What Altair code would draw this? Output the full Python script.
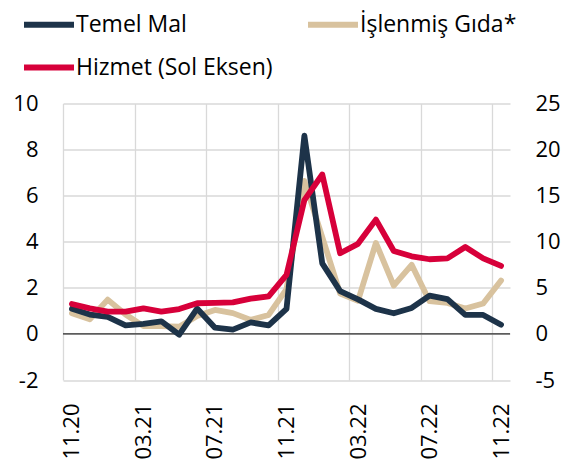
import json
import altair as alt
import pandas as pd

months = ["11.20", "12.20", "01.21", "02.21", "03.21", "04.21", "05.21", "06.21",
          "07.21", "08.21", "09.21", "10.21", "11.21", "12.21", "01.22", "02.22",
          "03.22", "04.22", "05.22", "06.22", "07.22", "08.22", "09.22", "10.22", "11.22"]

# Hizmet (left axis)
hizmet = [1.30, 1.11, 0.97, 0.97, 1.11, 0.97, 1.08, 1.33, 1.35, 1.37, 1.53, 1.63,
          2.56, 5.81, 6.92, 3.50, 3.91, 4.96, 3.60, 3.37, 3.24, 3.28, 3.77, 3.28, 2.95]
# Temel Mal (right axis)
temel_mal = [2.72, 2.10, 1.85, 0.92, 1.10, 1.37, -0.08, 2.75, 0.68, 0.47, 1.25, 0.92,
             2.72, 21.5, 7.66, 4.65, 3.75, 2.72, 2.24, 2.82, 4.15, 3.78, 2.06, 2.06, 1.00]
# İşlenmiş Gıda* (right axis)
islenmis_gida = [2.24, 1.59, 3.72, 2.10, 0.85, 0.85, 0.78, 1.95, 2.60, 2.26, 1.52, 2.06,
                 4.85, 16.6, 10.5, 4.38, 3.60, 9.87, 5.25, 7.50, 3.55, 3.36, 2.75, 3.30, 5.80]

series_names = ["Temel Mal", "İşlenmiş Gıda*", "Hizmet (Sol Eksen)"]
series_colors = ["#1d3349", "#d8c29e", "#d7003a"]
left_ticks = [-2, 0, 2, 4, 6, 8, 10]
right_ticks = [-5, 0, 5, 10, 15, 20, 25]
zero_line = [0]
label_step = 4

FONT = "Open Sans"
GRID = "#d9d9d9"
n = len(months)
idx = list(range(n))

df_h = pd.DataFrame({"i": idx, "v": hizmet, "series": series_names[2]})
df_t = pd.DataFrame({"i": idx, "v": temel_mal, "series": series_names[0]})
df_g = pd.DataFrame({"i": idx, "v": islenmis_gida, "series": series_names[1]})
df_z = pd.DataFrame({"v": zero_line})

grid_vals = [k - 0.5 for k in range(0, n, label_step)]
label_expr = json.dumps(months) + "[datum.value + 0.5]"
minus_fix = "replace(datum.label, '\u2212', '-')"

x_enc = alt.X(
    "i:Q",
    scale=alt.Scale(domain=[-0.5, n - 0.5], nice=False, zero=False),
    axis=alt.Axis(values=grid_vals, labelExpr=label_expr, labelOffset=8.94,
                  labelAngle=-90, labelFlush=False, labelOverlap=False,
                  grid=True, gridColor=GRID, gridWidth=1.3, ticks=False, tickSize=0,
                  domain=False, labelPadding=23, labelFont=FONT, labelFontSize=22,
                  labelColor="#000000", title=None),
)

color_enc = alt.Color(
    "series:N",
    scale=alt.Scale(domain=series_names, range=series_colors),
    legend=alt.Legend(title=None, orient="none", legendX=-29.5, legendY=-94.5,
                      direction="horizontal", columns=2, columnPadding=22,
                      rowPadding=15, padding=0,
                      symbolType="M-2,0H2", symbolSize=625, symbolStrokeWidth=6,
                      labelOffset=11.5, labelFont=FONT, labelFontSize=23,
                      labelColor="#000000", labelLimit=400),
)

right_scale = alt.Scale(domain=[-5, 25], nice=False, zero=False)
right_axis = alt.Axis(orient="right", values=right_ticks, grid=False, domain=False,
                      ticks=False, tickSize=0, labelPadding=25, labelFont=FONT,
                      labelFontSize=22, labelColor="#000000", title=None,
                      labelExpr=minus_fix)
left_scale = alt.Scale(domain=[-2, 10], nice=False, zero=False)
left_axis = alt.Axis(orient="left", values=left_ticks, grid=True, gridColor=GRID,
                     gridWidth=1.3, domain=False, ticks=False, tickSize=0,
                     labelPadding=25, labelFont=FONT, labelFontSize=22,
                     labelColor="#000000", title=None, labelExpr=minus_fix)

line_kw = dict(strokeWidth=5.8, strokeCap="round", strokeJoin="round")

zero_rule = alt.Chart(df_z).mark_rule(color="#000000", strokeWidth=1).encode(
    y=alt.Y("v:Q", scale=right_scale, axis=right_axis)
)
beige = alt.Chart(df_g).mark_line(**line_kw).encode(
    x=x_enc, y=alt.Y("v:Q", scale=right_scale, axis=right_axis), color=color_enc
)
navy = alt.Chart(df_t).mark_line(**line_kw).encode(
    x=x_enc, y=alt.Y("v:Q", scale=right_scale, axis=right_axis), color=color_enc
)
right_layer = alt.layer(zero_rule, beige, navy)

red = alt.Chart(df_h).mark_line(**line_kw).encode(
    x=x_enc, y=alt.Y("v:Q", scale=left_scale, axis=left_axis), color=color_enc
)

chart = (
    alt.layer(right_layer, red)
    .resolve_scale(y="independent")
    .properties(width=447, height=276.5,
                autosize=alt.AutoSizeParams(type="none"),
                padding={"left": 55, "top": 95.5, "right": 58, "bottom": 84})
    .configure_view(stroke=None)
)

chart.save("out.html", embed_options={"renderer": "svg", "actions": False})
